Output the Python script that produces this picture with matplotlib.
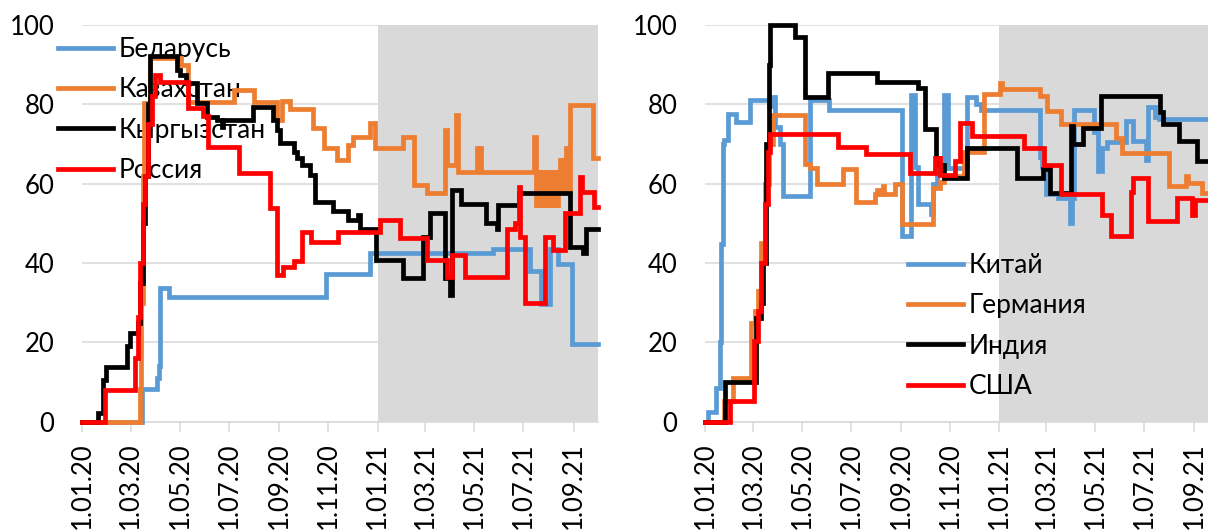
import numpy as np
import matplotlib.pyplot as plt

plt.rcParams['font.family'] = ['Lato', 'DejaVu Sans']

START = np.datetime64('2020-01-01')
END_DAY = 639          # 1.10.21
SHADE_DAY = 366        # 1.01.21

# change points: day counted from 1.01.20, index value from that day on
by_days = [0, 74, 92, 95, 96, 108, 302, 357, 509, 555, 569, 580, 590, 607, 639]
by_vals = [0, 8.3, 11.1, 14, 33.6, 31.4, 37.2, 42.6, 43.5, 38.0, 29.6, 43.5, 39.8, 19.6, 19.6]

kz_days = [0, 72, 73, 75, 77, 84, 122, 131, 188, 213, 242, 247, 257, 286, 300, 316, 330,
           336, 357, 363, 398, 411, 427, 450, 452, 463, 466, 489, 494, 560, 562,
           563, 564, 565, 566, 567, 568, 569, 570, 571, 572, 573, 574, 575, 576, 577,
           578, 579, 580, 581, 582, 583, 584, 585, 586, 587, 588, 589, 590,
           591, 592, 593, 594, 595, 596, 597, 598, 600, 602, 605, 633, 639]
kz_vals = [0, 8.3, 30, 62, 80.3, 91.6, 89.8, 80.7, 83.5, 80.5, 76, 80.8, 78.7, 74, 69, 66, 69.7,
           71.8, 75.2, 68.9, 71.8, 59.7, 57.6, 73.5, 64.7, 77.3, 63, 69, 63, 71.8, 63,
           54.6, 63, 54.6, 63, 54.6, 63, 54.6, 63, 54.6, 63, 54.6, 63, 54.6, 63, 54.6,
           63, 54.6, 63, 54.6, 63, 54.6, 63, 54.6, 63, 54.6, 63, 54.6, 63,
           58, 66, 58, 63, 58, 66, 58, 63, 69, 58, 79.8, 66.4, 66.4]

kg_days = [0, 20, 26, 30, 55, 59, 69, 72, 75, 78, 81, 84, 117, 121, 129, 142, 154, 167, 173,
           175, 212, 237, 241, 245, 262, 266, 272, 282, 288, 311, 330, 342, 344, 364, 398,
           423, 431, 450, 456, 458, 470, 501, 514, 516, 541, 605, 621, 625, 639]
kg_vals = [0, 2.1, 10.5, 13.9, 19, 22.3, 25, 35, 50, 62, 80, 92.1, 88.7, 87.5, 85.3, 80.3, 76.9, 76,
           74.4, 76.1, 79.4, 76, 73.5, 70.2, 68, 66.4, 64.7, 62.2, 55.3, 53.2, 50.8, 52, 48.7, 40.8,
           36.1, 46.6, 52.5, 36.1, 31.9, 58.4, 55, 50, 48.7, 54.6, 57.6, 44.1, 42.4, 48.7, 48.7]

ru_days = [0, 28, 65, 69, 72, 75, 78, 82, 86, 90, 96, 131, 150, 156, 194, 233, 241, 249, 262,
           272, 284, 317, 369, 394, 427, 452, 458, 474, 526, 537, 541, 543, 549, 574, 584,
           598, 617, 620, 634, 639]
ru_vals = [0, 8.0, 16, 26.5, 40, 55, 62, 75, 82, 87.4, 85.7, 79, 77, 69.3, 62.6, 53.8, 37, 39,
           40.6, 47.9, 45.4, 47.9, 50.8, 46.2, 40.8, 36.6, 42, 36.6, 48.7, 50, 59.2, 46.6, 29.8,
           46.6, 43.3, 52.5, 61.8, 58, 54.2, 54.2]

cn_days = [0, 4, 14, 18, 20, 22, 24, 28, 39, 56, 79, 83, 87, 93, 97, 131, 154, 245, 257, 261,
           265, 281, 284, 289, 297, 303, 326, 338, 344, 417, 420, 425, 440, 455, 457, 459,
           484, 490, 494, 500, 524, 533, 549, 552, 561, 566, 639]
cn_vals = [0, 2.5, 8.4, 20, 44.7, 70, 71, 77.6, 75.5, 81, 79.7, 81.9, 74.3, 70, 57, 81, 78.5,
           46.8, 82.3, 64.1, 54.9, 52.3, 60, 64, 82.3, 64, 81.9, 80.2, 78.5, 66.7, 64.1, 57.4,
           56.5, 50, 56.5, 78.5, 73, 63.2, 69, 70.5, 75.8, 70.7, 66, 79.3, 76.8, 76.4, 76.4]

de_days = [0, 23, 35, 57, 62, 66, 70, 75, 80, 85, 125, 131, 139, 172, 188, 212, 214, 218, 222,
           223, 236, 245, 284, 292, 297, 323, 347, 367, 370, 417, 426, 443, 512, 519, 578,
           599, 602, 619, 639]
de_vals = [0, 5.1, 11, 24.9, 28, 33, 45, 60, 70, 77.2, 65, 64, 59.9, 63.7, 55.3, 57.5, 58.4,
           57.4, 59.5, 57.4, 60, 49.8, 59, 60.5, 61.9, 68, 82.5, 85.5, 83.8, 82.1, 78.3, 75,
           71.6, 67.8, 59.4, 61.9, 60.2, 57.7, 57.7]

in_days = [0, 25, 64, 70, 72, 76, 79, 81, 112, 124, 153, 214, 265, 274, 288, 291, 297, 326,
           389, 421, 430, 456, 458, 471, 493, 567, 570, 590, 613, 639]
in_vals = [0, 10.1, 26.2, 30, 40, 70, 90, 100, 97, 81.9, 87.8, 85.7, 84.2, 73.8, 66.5, 64.8,
           61.5, 69, 61.5, 63.6, 57.7, 74.5, 69.9, 74.1, 82.1, 78, 75, 70.7, 65.7, 65.7]

us_days = [0, 31, 61, 66, 70, 74, 78, 81, 165, 200, 255, 286, 293, 311, 318, 333, 397, 422,
           443, 494, 505, 530, 533, 552, 588, 606, 610, 639]
us_vals = [0, 5.1, 20.3, 28, 40, 55, 68, 72.4, 69.2, 67.5, 62.7, 66.5, 62.3, 65.7, 75.4, 72,
           69, 64.8, 57.3, 52.2, 46.7, 58, 61.5, 50.5, 56.4, 52.2, 56, 56]

left_series = [('Беларусь', by_days, by_vals, '#5B9BD5'),
               ('Казахстан', kz_days, kz_vals, '#ED7D31'),
               ('Кыргызстан', kg_days, kg_vals, '#000000'),
               ('Россия', ru_days, ru_vals, '#FF0000')]
right_series = [('Китай', cn_days, cn_vals, '#5B9BD5'),
                ('Германия', de_days, de_vals, '#ED7D31'),
                ('Индия', in_days, in_vals, '#000000'),
                ('США', us_days, us_vals, '#FF0000')]

tick_days = [0, 60, 121, 182, 244, 305, 366, 425, 486, 547, 609]
tick_labels = ['1.01.20', '1.03.20', '1.05.20', '1.07.20', '1.09.20', '1.11.20',
               '1.01.21', '1.03.21', '1.05.21', '1.07.21', '1.09.21']

GRID = '#D9D9D9'

fig = plt.figure(figsize=(12.08, 5.31), dpi=100)
ax_l = fig.add_axes([82.3 / 1208, 109.3 / 531, 515.4 / 1208, 396.7 / 531])
ax_r = fig.add_axes([705.1 / 1208, 109.3 / 531, 513.0 / 1208, 396.7 / 531])


def to_dates(days):
    return START + np.array(days, dtype='timedelta64[D]')


def draw_panel(ax, series, legend_xy):
    ax.axvspan(to_dates([SHADE_DAY])[0], to_dates([END_DAY])[0], color=GRID, lw=0, zorder=1)
    for name, days, vals, col in series:
        ax.plot(to_dates(days), vals, drawstyle='steps-post', color=col, lw=3.4,
                label=name, zorder=3, clip_on=False, solid_joinstyle='miter')
    ax.set_xlim(to_dates([0])[0], to_dates([END_DAY])[0])
    ax.set_ylim(0, 100)
    ax.set_yticks([0, 20, 40, 60, 80, 100])
    ax.yaxis.grid(True, color=GRID, lw=1.1, zorder=0.5)
    ax.set_axisbelow(True)
    for s in ['top', 'right', 'left']:
        ax.spines[s].set_visible(False)
    ax.spines['bottom'].set_color(GRID)
    ax.spines['bottom'].set_linewidth(1.1)
    ax.set_xticks(to_dates(tick_days))
    ax.set_xticklabels(tick_labels, rotation=90, fontsize=18.5)
    ax.tick_params(axis='x', length=7, width=1.1, color=GRID, pad=8)
    ax.tick_params(axis='y', length=0, pad=20, labelsize=18.5)
    leg = ax.legend(loc='upper left', bbox_to_anchor=legend_xy, bbox_transform=fig.transFigure,
                    frameon=False, fontsize=19, handlelength=2.1, handletextpad=0.2,
                    labelspacing=0.58, borderpad=0, borderaxespad=0)
    leg.set_zorder(2)


draw_panel(ax_l, left_series, (58 / 1208, 1 - 37 / 531))
draw_panel(ax_r, right_series, (908 / 1208, 1 - 253 / 531))

fig.savefig('out.png', dpi=100)
